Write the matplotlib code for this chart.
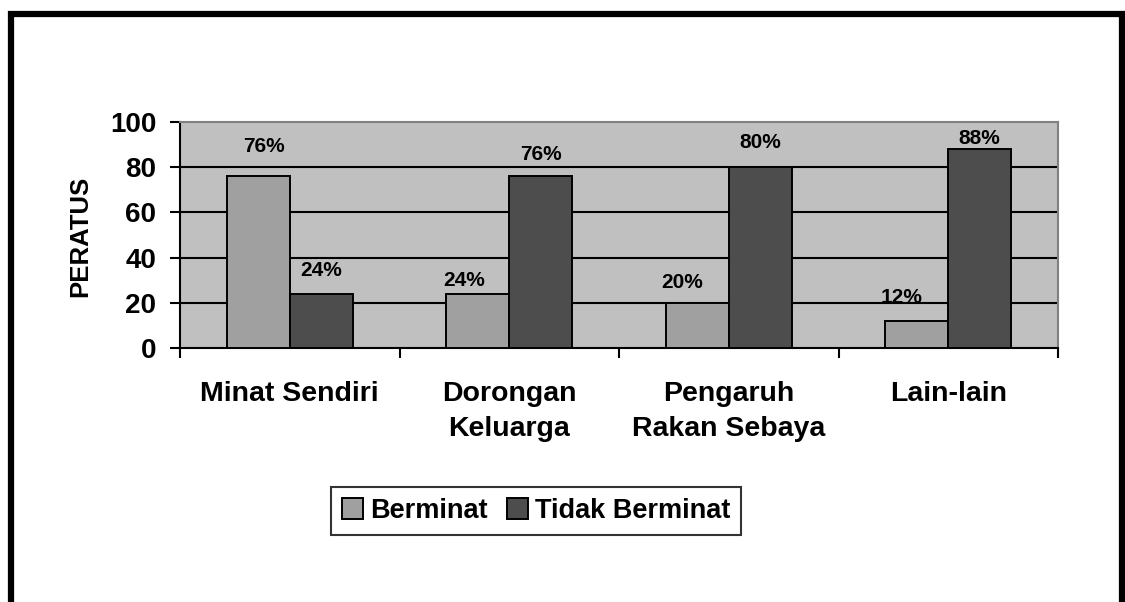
"""
Bar chart: minat (interest) by source, Berminat vs Tidak Berminat
"""

import numpy as np
import matplotlib
matplotlib.use('Agg')
import matplotlib.pyplot as plt
from matplotlib.patches import Rectangle

plt.rcParams['font.family'] = ['Liberation Sans', 'DejaVu Sans']
plt.rcParams['font.weight'] = 'bold'

# Data
categories = ['Minat Sendiri', 'Dorongan\nKeluarga', 'Pengaruh\nRakan Sebaya', 'Lain-lain']
berminat = [76, 24, 20, 12]
tidak_berminat = [24, 76, 80, 88]
series_names = ['Berminat', 'Tidak Berminat']
y_ticks = [0, 20, 40, 60, 80, 100]

# label heights (data units) as placed in the original chart
label_y_berminat = [89, 30, 28.8, 22.5]
label_y_tidak = [34.2, 85.4, 91, 92.5]
label_dx_berminat = [4, -10, -11, -11]   # points

# Colours
BG = '#C0C0C0'
LIGHT = '#A0A0A0'
DARK = '#4D4D4D'

W, H = 1125, 602
fig = plt.figure(figsize=(W / 100, H / 100), dpi=100)
ax = fig.add_axes([180 / W, 1 - 348 / H, (1058 - 180) / W, (348 - 122) / H])
ax.set_facecolor(BG)

x = np.arange(len(categories))
bw = 0.287

ax.bar(x - bw / 2, berminat, bw, color=LIGHT, edgecolor='black', linewidth=1.4, zorder=3,
       label=series_names[0])
ax.bar(x + bw / 2, tidak_berminat, bw, color=DARK, edgecolor='black', linewidth=1.4, zorder=3,
       label=series_names[1])

# value labels
for i in range(len(categories)):
    ax.annotate(f"{berminat[i]}%", (x[i] - bw / 2, label_y_berminat[i]),
                xytext=(label_dx_berminat[i], 0), textcoords='offset points',
                ha='center', va='center', fontsize=15, fontweight='bold', zorder=4)
    ax.annotate(f"{tidak_berminat[i]}%", (x[i] + bw / 2, label_y_tidak[i]),
                ha='center', va='center', fontsize=15, fontweight='bold', zorder=4)

# axes limits / grid
ax.set_xlim(-0.5, len(categories) - 0.5)
ax.set_ylim(0, 100)
ax.set_yticks(y_ticks)
ax.set_yticklabels([str(v) for v in y_ticks], fontsize=20, fontweight='bold')
for v in y_ticks[1:-1]:
    ax.axhline(v, color='black', linewidth=1.5, zorder=2)

# x ticks at category boundaries, labels at centres
ax.set_xticks(np.arange(len(categories) + 1) - 0.5)
ax.set_xticklabels([])
ax.set_xticks(x, minor=True)
ax.set_xticklabels(categories, minor=True, fontsize=20.5, fontweight='bold', linespacing=1.45)
ax.tick_params(axis='x', which='major', direction='out', length=7, width=1.5)
ax.tick_params(axis='x', which='minor', length=0, pad=24)
ax.tick_params(axis='y', direction='out', length=7, width=1.5, pad=10)

for side in ['left', 'bottom']:
    ax.spines[side].set_color('black')
    ax.spines[side].set_linewidth(1.5)
for side in ['top', 'right']:
    ax.spines[side].set_color('#808080')
    ax.spines[side].set_linewidth(1.5)

fig.text(80 / W, 1 - 236 / H, 'PERATUS', rotation=90, ha='center', va='center',
         fontsize=18.5, fontweight='bold')

leg = ax.legend(loc='center', bbox_to_anchor=(536 / W, 1 - 511 / H),
                bbox_transform=fig.transFigure, ncol=2, fontsize=19.5, frameon=True,
                fancybox=False, handlelength=0.8, handleheight=0.8,
                handletextpad=0.25, columnspacing=0.7, borderpad=0.4, borderaxespad=0)
leg.get_frame().set_edgecolor('black')
leg.get_frame().set_linewidth(1.5)
for t in leg.get_texts():
    t.set_fontweight('bold')

# outer border (bottom edge is cut off in the original)
fig.add_artist(Rectangle((11 / W, -0.05), (1122 - 11) / W, 1.05 - 14 / H,
                         transform=fig.transFigure, fill=False, edgecolor='black',
                         linewidth=4.5, clip_on=False))

plt.savefig('out.png', dpi=100)
plt.close()
